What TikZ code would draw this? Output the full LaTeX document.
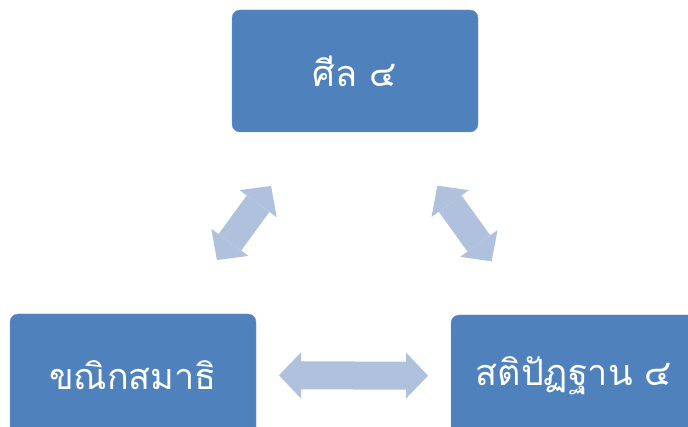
\documentclass[tikz,border=0pt]{standalone}
\usepackage{fontspec}
\newfontfamily\thaifont[Script=Thai]{Loma}
\usetikzlibrary{arrows.meta,calc}
\definecolor{boxblue}{RGB}{79,129,189}
\definecolor{arrowblue}{RGB}{176,193,221}

\begin{document}
\begin{tikzpicture}[x=1pt,y=-1pt,
    topic/.style={draw=boxblue!85!white, fill=boxblue, rounded corners=8pt,
      minimum width=246pt, minimum height=122pt, inner sep=0pt,
      text=white, font=\thaifont\fontsize{36}{42}\selectfont},
    link/.style={arrowblue, line width=28pt,
      {Triangle[width=46pt,length=22pt,line width=0pt]}-{Triangle[width=46pt,length=22pt,line width=0pt]}}]
  % Fix the page
  \useasboundingbox (0,0) rectangle (688,427);
  \clip (0,0) rectangle (688,427);
  % Draw the boxes
  \node[topic] (sila) at (355,71) {ศีล ๔};
  \node[topic] (khanika) at (133,375) {ขณิกสมาธิ};
  \node[topic] (sati) at (574,376) {สติปัฏฐาน ๔};
  % Draw the arrows
  \draw[link] ($(sila)!0.378!(khanika)$) -- ($(sila)!0.622!(khanika)$);
  \draw[link] ($(sila)!0.376!(sati)$) -- ($(sila)!0.624!(sati)$);
  \draw[link] ($(khanika)!0.331!(sati)$) -- ($(khanika)!0.669!(sati)$);
\end{tikzpicture}
\end{document}
